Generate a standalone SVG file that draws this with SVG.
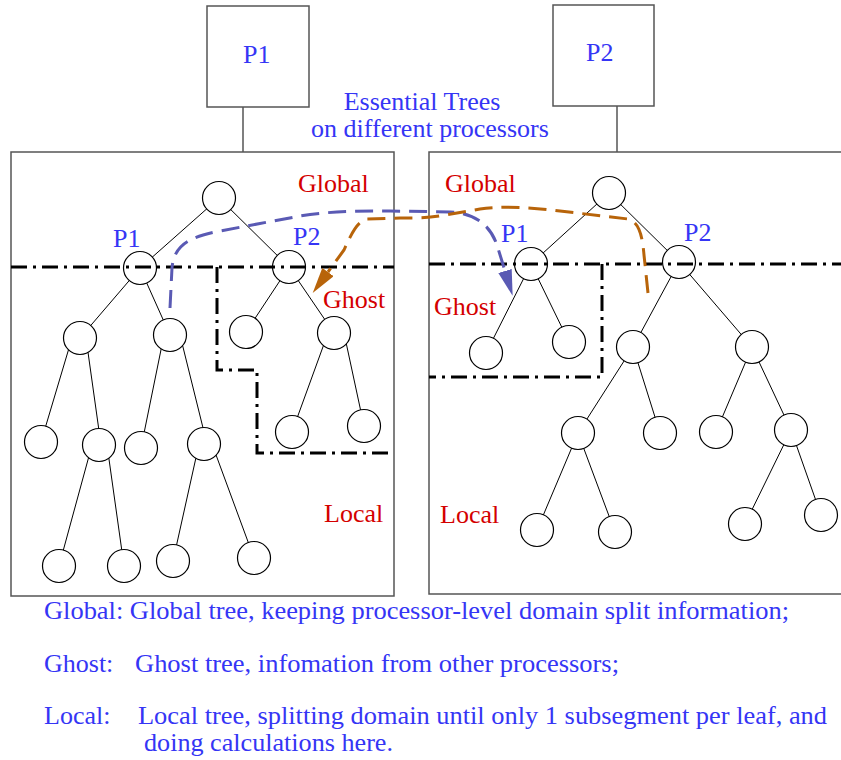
<svg xmlns="http://www.w3.org/2000/svg" width="841" height="760" viewBox="0 0 841 760">
<style>
.bg{fill:#fff}
.box{fill:none;stroke:#555;stroke-width:1.5}
.stem{stroke:#555;stroke-width:1.5}
.node circle{fill:#fff;stroke:#000;stroke-width:1.2}
.edge{stroke:#000;stroke-width:1}
.dd{fill:none;stroke:#000;stroke-width:3;stroke-dasharray:16 6 3 6}
.t{font-family:"Liberation Serif","Times New Roman",serif;font-size:26px}
.blue{fill:#3535f5}
.red{fill:#d40000}
.arrB{fill:none;stroke:#5a5ab4;stroke-width:3;stroke-dasharray:18 9}
.arrO{fill:none;stroke:#b8640a;stroke-width:3;stroke-dasharray:18 9}
</style>
<defs>
<marker id="headB" markerUnits="userSpaceOnUse" viewBox="0 0 26 14" refX="0" refY="7" markerWidth="26" markerHeight="14" orient="auto">
<path d="M0,0 L26,7 L0,14 z" fill="#5a5ab4"/>
</marker>
<marker id="headO" markerUnits="userSpaceOnUse" viewBox="0 0 26 14" refX="0" refY="7" markerWidth="26" markerHeight="14" orient="auto">
<path d="M0,0 L26,7 L0,14 z" fill="#b8640a"/>
</marker>
</defs>
<rect class="bg" x="0" y="0" width="841" height="760"/>

<!-- processor boxes and frames -->
<g id="procP1">
<rect class="box" x="207" y="6" width="102" height="101"/>
<text class="t blue" x="243" y="63">P1</text>
</g>
<g id="procP2">
<rect class="box" x="553" y="5" width="101" height="101"/>
<text class="t blue" x="586" y="61">P2</text>
</g>
<g id="frameLeft">
<rect class="box" x="11" y="152" width="383" height="444"/>
</g>
<g id="frameRight">
<rect class="box" x="429" y="152" width="420" height="442"/>
</g>
<g id="title">
<text class="t blue" x="422" y="110" text-anchor="middle">Essential Trees</text>
<text class="t blue" x="430" y="137" text-anchor="middle">on different processors</text>
</g>

<!-- connectors -->
<g id="connectors">
<line class="stem" x1="243" y1="107" x2="243" y2="152"/>
<line class="stem" x1="617" y1="106" x2="617" y2="152"/>
<!-- left tree -->
<line class="edge" x1="219" y1="198" x2="140" y2="268"/>
<line class="edge" x1="219" y1="198" x2="289" y2="267"/>
<line class="edge" x1="140" y1="268" x2="80" y2="338"/>
<line class="edge" x1="140" y1="268" x2="170" y2="335"/>
<line class="edge" x1="289" y1="267" x2="246" y2="332"/>
<line class="edge" x1="289" y1="267" x2="334" y2="333"/>
<line class="edge" x1="72" y1="338" x2="41" y2="442"/>
<line class="edge" x1="86" y1="338" x2="101" y2="445"/>
<line class="edge" x1="164" y1="335" x2="141" y2="448"/>
<line class="edge" x1="180" y1="335" x2="207" y2="444"/>
<line class="edge" x1="328" y1="333" x2="292" y2="432"/>
<line class="edge" x1="344" y1="333" x2="364" y2="426"/>
<line class="edge" x1="92" y1="445" x2="59" y2="566"/>
<line class="edge" x1="107" y1="445" x2="124" y2="566"/>
<line class="edge" x1="199" y1="444" x2="173" y2="561"/>
<line class="edge" x1="212" y1="444" x2="254" y2="558"/>
<!-- right tree -->
<line class="edge" x1="609" y1="193" x2="531" y2="264"/>
<line class="edge" x1="609" y1="193" x2="679" y2="262"/>
<line class="edge" x1="531" y1="264" x2="486" y2="353"/>
<line class="edge" x1="531" y1="264" x2="569" y2="342"/>
<line class="edge" x1="679" y1="262" x2="633" y2="347"/>
<line class="edge" x1="679" y1="262" x2="752" y2="347"/>
<line class="edge" x1="633" y1="347" x2="578" y2="433"/>
<line class="edge" x1="633" y1="347" x2="660" y2="433"/>
<line class="edge" x1="752" y1="347" x2="716" y2="432"/>
<line class="edge" x1="752" y1="347" x2="791" y2="430"/>
<line class="edge" x1="578" y1="433" x2="537" y2="530"/>
<line class="edge" x1="578" y1="433" x2="615" y2="532"/>
<line class="edge" x1="791" y1="430" x2="745" y2="524"/>
<line class="edge" x1="791" y1="430" x2="821" y2="515"/>
</g>

<!-- left tree nodes -->
<g id="L_root" class="node"><circle cx="219" cy="198" r="16.5"/></g>
<g id="L_P1" class="node"><circle cx="140" cy="268" r="16.5"/></g>
<g id="L_P2" class="node"><circle cx="289" cy="267" r="16.5"/></g>
<g id="L_a" class="node"><circle cx="80" cy="338" r="16.5"/></g>
<g id="L_b" class="node"><circle cx="170" cy="335" r="16.5"/></g>
<g id="L_c" class="node"><circle cx="246" cy="332" r="16.5"/></g>
<g id="L_d" class="node"><circle cx="334" cy="333" r="16.5"/></g>
<g id="L_e" class="node"><circle cx="41" cy="442" r="16.5"/></g>
<g id="L_f" class="node"><circle cx="99" cy="445" r="16.5"/></g>
<g id="L_g" class="node"><circle cx="141" cy="448" r="16.5"/></g>
<g id="L_h" class="node"><circle cx="204" cy="444" r="16.5"/></g>
<g id="L_i" class="node"><circle cx="292" cy="432" r="16.5"/></g>
<g id="L_j" class="node"><circle cx="364" cy="426" r="16.5"/></g>
<g id="L_k" class="node"><circle cx="59" cy="566" r="16.5"/></g>
<g id="L_l" class="node"><circle cx="124" cy="566" r="16.5"/></g>
<g id="L_m" class="node"><circle cx="173" cy="561" r="16.5"/></g>
<g id="L_n" class="node"><circle cx="254" cy="558" r="16.5"/></g>

<!-- right tree nodes -->
<g id="R_root" class="node"><circle cx="609" cy="193" r="16.5"/></g>
<g id="R_P1" class="node"><circle cx="531" cy="264" r="16.5"/></g>
<g id="R_P2" class="node"><circle cx="679" cy="262" r="16.5"/></g>
<g id="R_a" class="node"><circle cx="486" cy="353" r="16.5"/></g>
<g id="R_b" class="node"><circle cx="569" cy="342" r="16.5"/></g>
<g id="R_c" class="node"><circle cx="633" cy="347" r="16.5"/></g>
<g id="R_d" class="node"><circle cx="752" cy="347" r="16.5"/></g>
<g id="R_e" class="node"><circle cx="578" cy="433" r="16.5"/></g>
<g id="R_f" class="node"><circle cx="660" cy="433" r="16.5"/></g>
<g id="R_g" class="node"><circle cx="716" cy="432" r="16.5"/></g>
<g id="R_h" class="node"><circle cx="791" cy="430" r="16.5"/></g>
<g id="R_i" class="node"><circle cx="537" cy="530" r="16.5"/></g>
<g id="R_j" class="node"><circle cx="615" cy="532" r="16.5"/></g>
<g id="R_k" class="node"><circle cx="745" cy="524" r="16.5"/></g>
<g id="R_l" class="node"><circle cx="821" cy="515" r="16.5"/></g>

<!-- region boundaries -->
<g id="boundaries">
<line class="dd" x1="11" y1="267" x2="394" y2="267"/>
<polyline class="dd" points="217,267 217,370 257,370 257,453 388,453"/>
<line class="dd" x1="429" y1="264" x2="841" y2="264"/>
<polyline class="dd" points="602,264 602,377 429,377"/>
</g>

<!-- exchange arrows -->
<g id="exchange">
<path class="arrB" marker-end="url(#headB)" d="M170,308 L172,268 C174,242 195,236 220,231 L300,216 C330,211 360,211 390,211 L450,212 C475,213 490,225 497,245 L505,271"/>
<path class="arrO" marker-end="url(#headO)" d="M648,293 L644,255 C642,232 638,222 628,219 L560,211 C530,207 500,206 480,209 L445,215 C430,218 420,218 400,218 L367,219 C358,221 352,232 344,250 L328,272"/>
</g>

<!-- region labels -->
<g id="labels">
<text class="t red" x="298" y="192">Global</text>
<text class="t blue" x="113" y="247">P1</text>
<text class="t blue" x="293" y="245">P2</text>
<text class="t red" x="323" y="308">Ghost</text>
<text class="t red" x="324" y="522">Local</text>
<text class="t red" x="445" y="192">Global</text>
<text class="t blue" x="501" y="242">P1</text>
<text class="t blue" x="684" y="241">P2</text>
<text class="t red" x="434" y="315">Ghost</text>
<text class="t red" x="440" y="523">Local</text>
</g>

<!-- legend -->
<g id="legend">
<text class="t blue" x="44" y="619" textLength="745" lengthAdjust="spacingAndGlyphs">Global: Global tree, keeping processor-level domain split information;</text>
<text class="t blue" x="44" y="672">Ghost:</text>
<text class="t blue" x="135" y="672" textLength="484" lengthAdjust="spacingAndGlyphs">Ghost tree, infomation from other processors;</text>
<text class="t blue" x="44" y="724">Local:</text>
<text class="t blue" x="138" y="724" textLength="689" lengthAdjust="spacingAndGlyphs">Local tree, splitting domain until only 1 subsegment per leaf, and</text>
<text class="t blue" x="144" y="751" textLength="249" lengthAdjust="spacingAndGlyphs">doing calculations here.</text>
</g>
</svg>
